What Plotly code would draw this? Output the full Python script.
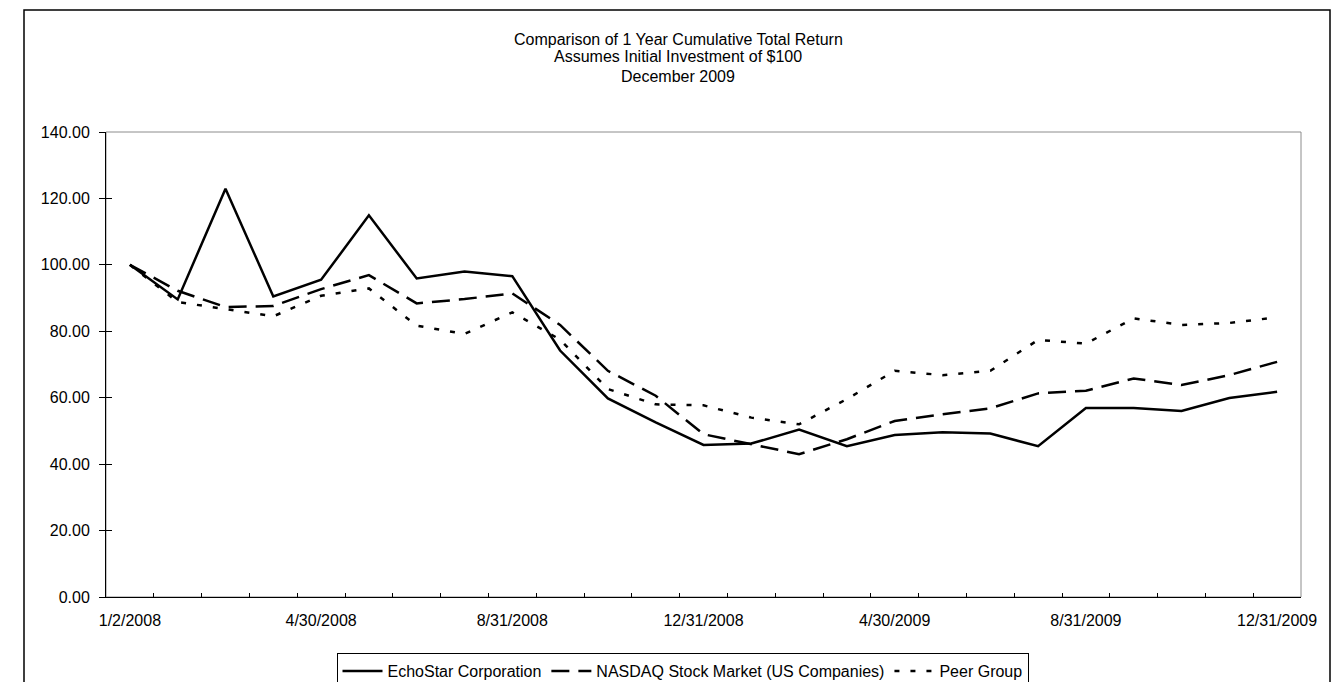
import plotly.graph_objects as go

dates = ["1/2/2008", "1/31/2008", "2/29/2008", "3/31/2008", "4/30/2008", "5/31/2008",
         "6/30/2008", "7/31/2008", "8/31/2008", "9/30/2008", "10/31/2008", "11/30/2008",
         "12/31/2008", "1/31/2009", "2/28/2009", "3/31/2009", "4/30/2009", "5/31/2009",
         "6/30/2009", "7/31/2009", "8/31/2009", "9/30/2009", "10/31/2009", "11/30/2009",
         "12/31/2009"]

echostar = [100.00, 89.6, 122.9, 90.5, 95.5, 114.9, 95.9, 98.0, 96.6, 74.2, 59.8, 52.6,
            45.8, 46.2, 50.4, 45.4, 48.8, 49.6, 49.2, 45.4, 56.9, 56.9, 56.0, 59.9, 61.8]
nasdaq = [100.00, 92.2, 87.3, 87.6, 92.7, 96.9, 88.4, 89.7, 91.4, 81.9, 68.1, 60.6,
          49.0, 46.0, 43.0, 47.5, 53.0, 55.0, 56.8, 61.3, 62.1, 65.8, 63.8, 66.8, 70.8]
peer = [100.00, 88.8, 86.7, 84.5, 90.7, 92.9, 81.7, 79.2, 85.7, 77.5, 62.6, 58.0,
        57.7, 54.0, 52.0, 59.6, 68.1, 66.8, 68.1, 77.4, 76.3, 83.9, 81.9, 82.5, 84.2]

series_names = ["EchoStar Corporation", "NASDAQ Stock Market (US Companies)", "Peer Group"]
title_lines = ["Comparison of 1 Year Cumulative Total Return",
               "Assumes Initial Investment of $100",
               "December 2009"]
y_ticks = [0, 20, 40, 60, 80, 100, 120, 140]
x_labels = ["1/2/2008", "4/30/2008", "8/31/2008", "12/31/2008", "4/30/2009",
            "8/31/2009", "12/31/2009"]

FONT = "Arial, 'Liberation Sans', sans-serif"

# figure geometry (the page body adds an 8px offset)
W, H = 1333, 674
L, R, T, B = 98, 40, 124, 85
PW, PH = W - L - R, H - T - B


def px_x(x):
    return (x - L) / PW


def px_y(y):
    return (H - B - y) / PH


fig = go.Figure()
styles = [dict(dash="solid", width=2.5),
          dict(dash="18px,9px", width=2.5),
          dict(dash="5px,11px", width=2.5)]
for name, vals, st in zip(series_names, [echostar, nasdaq, peer], styles):
    fig.add_trace(go.Scatter(x=dates, y=vals, mode="lines", name=name,
                             line=dict(color="black", width=st["width"], dash=st["dash"])))

# invisible trace so the overlay axis (inner half of cross y ticks) is drawn
fig.add_trace(go.Scatter(x=[dates[0]], y=[0], yaxis="y2", mode="markers",
                         marker=dict(opacity=0), showlegend=False, hoverinfo="skip"))

ticktext = [d if d in x_labels else "" for d in dates]

fig.update_layout(
    width=W, height=H,
    margin=dict(l=L, r=R, t=T, b=B, autoexpand=False),
    paper_bgcolor="white", plot_bgcolor="white",
    font=dict(family=FONT, size=16, color="black"),
    showlegend=True,
    legend=dict(orientation="h", x=px_x(674.5), xanchor="center", y=px_y(645), yanchor="top",
                bordercolor="black", borderwidth=1, bgcolor="white",
                font=dict(family=FONT, size=16, color="black"),
                itemwidth=40, tracegroupgap=0),
    xaxis=dict(type="category", range=[-0.5, 24.5], tickmode="array",
               tickvals=dates, ticktext=ticktext, tickson="boundaries", tickangle=0,
               ticks="inside", ticklen=4, tickcolor="black", tickwidth=1,
               showline=True, linecolor="black", linewidth=1, showgrid=False,
               zeroline=False, tickfont=dict(family=FONT, size=16),
               ticklabelstandoff=9, automargin=False),
    yaxis=dict(range=[0, 140], tickmode="array", tickvals=y_ticks, tickformat=".2f",
               ticks="outside", ticklen=6, tickcolor="black", tickwidth=1,
               showline=True, linecolor="black", linewidth=1, showgrid=False,
               zeroline=False, tickfont=dict(family=FONT, size=16),
               ticklabelstandoff=6, automargin=False),
    yaxis2=dict(range=[0, 140], overlaying="y", side="left", tickmode="array",
                tickvals=y_ticks, ticks="inside", ticklen=6, tickcolor="black",
                showticklabels=False, showline=False, showgrid=False, zeroline=False,
                automargin=False),
)

# plot-area border (grey) and outer chart frame
fig.add_shape(type="rect", xref="paper", yref="paper", x0=0, x1=1, y0=0, y1=1,
              line=dict(color="#8c8c8c", width=1), layer="below")
fig.add_shape(type="rect", xref="paper", yref="paper",
              x0=px_x(16), x1=px_x(1322), y0=px_y(H + 20), y1=px_y(2),
              line=dict(color="black", width=1.5), layer="below")

title_y = [31, 49, 68]
for txt, py in zip(title_lines, title_y):
    fig.add_annotation(text=txt, xref="paper", yref="paper",
                       x=px_x(670), y=px_y(py),
                       xanchor="center", yanchor="middle", showarrow=False,
                       font=dict(family=FONT, size=16, color="black"))

fig.write_html("out.html")
